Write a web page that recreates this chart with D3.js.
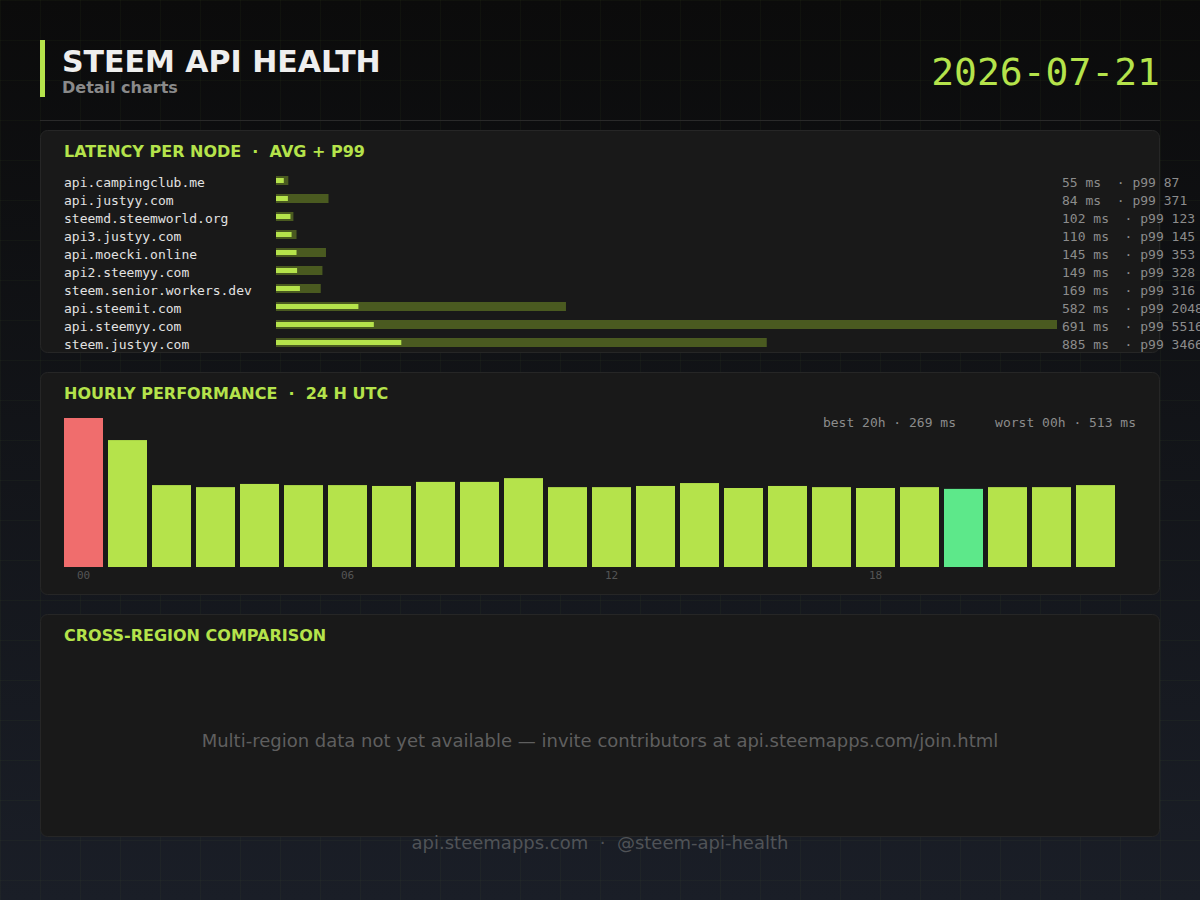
<!DOCTYPE html>
<html>
<head>
<meta charset="utf-8">
<script src="https://cdn.jsdelivr.net/npm/d3@7/dist/d3.min.js"></script>
<style>
  html, body { margin: 0; padding: 0; background: #0b0b0b; }
  svg { display: block; }
  text { white-space: pre; }
</style>
</head>
<body>
<svg id="chart" width="1200" height="900"></svg>
<script>
// ---------- data ----------
const title = "STEEM API HEALTH";
const subtitle = "Detail charts";
const dateLabel = "2026-07-21";

const nodeNames = ["api.campingclub.me", "api.justyy.com", "steemd.steemworld.org", "api3.justyy.com",
  "api.moecki.online", "api2.steemyy.com", "steem.senior.workers.dev", "api.steemit.com",
  "api.steemyy.com", "steem.justyy.com"];
const nodeAvg = [55, 84, 102, 110, 145, 149, 169, 582, 691, 885];
const nodeP99 = [87, 371, 123, 145, 353, 328, 316, 2048, 5516, 3466];

const hours = ["00","01","02","03","04","05","06","07","08","09","10","11",
               "12","13","14","15","16","17","18","19","20","21","22","23"];
const hourlyMs = [513, 437, 282, 275, 286, 282, 282, 279, 293, 293, 306, 275,
                  275, 279, 289, 272, 279, 275, 272, 275, 269, 275, 275, 282];
const hourTicks = ["00", "06", "12", "18"];

const regionMessage = "Multi-region data not yet available \u2014 invite contributors at api.steemapps.com/join.html";
const footerText = "api.steemapps.com  \u00b7  @steem-api-health";

// ---------- style ----------
const ACCENT = "#b5e34b";
const OLIVE = "#4a5a20";
const RED = "#f06d6d";
const GREEN = "#5de88a";
const SANS = "'DejaVu Sans', sans-serif";
const MONO = "'DejaVu Sans Mono', monospace";

const svg = d3.select("#chart");
const W = 1200, H = 900;

// background
const defs = svg.append("defs");
const bg = defs.append("linearGradient").attr("id", "bg").attr("x1", 0).attr("y1", 0).attr("x2", 0).attr("y2", 1);
bg.append("stop").attr("offset", "0%").attr("stop-color", "#0b0b0b");
bg.append("stop").attr("offset", "100%").attr("stop-color", "#1a1e27");
svg.append("rect").attr("width", W).attr("height", H).attr("fill", "url(#bg)");

const grid = svg.append("g").attr("stroke", "rgba(181,227,75,0.035)").attr("stroke-width", 1);
grid.selectAll("line.v").data(d3.range(0, W + 1, 40)).join("line")
  .attr("x1", d => d + 0.5).attr("x2", d => d + 0.5).attr("y1", 0).attr("y2", H);
grid.selectAll("line.h").data(d3.range(0, H + 1, 40)).join("line")
  .attr("y1", d => d + 0.5).attr("y2", d => d + 0.5).attr("x1", 0).attr("x2", W);

// header
svg.append("rect").attr("x", 40).attr("y", 40).attr("width", 5).attr("height", 57).attr("fill", ACCENT);
svg.append("text").attr("x", 62).attr("y", 72).attr("font-family", SANS).attr("font-weight", "bold")
  .attr("font-size", 30).attr("fill", "#eeeeee").text(title);
svg.append("text").attr("x", 62).attr("y", 93).attr("font-family", SANS).attr("font-weight", "bold")
  .attr("font-size", 16).attr("fill", "#8a8a8a").text(subtitle);
svg.append("text").attr("x", 1160).attr("y", 85).attr("text-anchor", "end").attr("font-family", MONO)
  .attr("font-size", 38).attr("fill", ACCENT).text(dateLabel);
svg.append("line").attr("x1", 40).attr("x2", 1160).attr("y1", 120.5).attr("y2", 120.5)
  .attr("stroke", "#2a2a2a").attr("stroke-width", 1);

// panels
function panel(y, h, label) {
  svg.append("rect").attr("x", 40.5).attr("y", y + 0.5).attr("width", 1119).attr("height", h)
    .attr("rx", 7).attr("fill", "#191919").attr("stroke", "#262626");
  svg.append("text").attr("x", 64).attr("y", y + 27).attr("font-family", SANS).attr("font-weight", "bold")
    .attr("font-size", 16).attr("fill", ACCENT).text(label);
}
panel(130, 222, "LATENCY PER NODE  \u00b7  AVG + P99");
panel(372, 222, "HOURLY PERFORMANCE  \u00b7  24 H UTC");
panel(614, 222, "CROSS-REGION COMPARISON");

// ---------- latency per node ----------
const nodes = nodeNames.map((n, i) => ({ name: n, avg: nodeAvg[i], p99: nodeP99[i] }));
const xLat = d3.scaleLinear().domain([0, d3.max(nodeP99)]).range([276, 1057]);
const yLat = d3.scalePoint().domain(nodeNames).range([180.5, 342.5]);

const lat = svg.append("g");
lat.selectAll("text.name").data(nodes).join("text")
  .attr("x", 64).attr("y", d => yLat(d.name) + 6.5)
  .attr("font-family", MONO).attr("font-size", 13).attr("fill", "#e2e2e2").text(d => d.name);
lat.selectAll("rect.p99").data(nodes).join("rect")
  .attr("x", xLat(0)).attr("y", d => yLat(d.name) - 4.5)
  .attr("width", d => xLat(d.p99) - xLat(0)).attr("height", 9).attr("fill", OLIVE);
lat.selectAll("rect.avg").data(nodes).join("rect")
  .attr("x", xLat(0)).attr("y", d => yLat(d.name) - 2.5)
  .attr("width", d => xLat(d.avg) - xLat(0)).attr("height", 5).attr("fill", ACCENT);
lat.selectAll("text.val").data(nodes).join("text")
  .attr("x", 1062).attr("y", d => yLat(d.name) + 6.5)
  .attr("font-family", MONO).attr("font-size", 13).attr("fill", "#8c8c8c")
  .text(d => `${d.avg} ms  \u00b7 p99 ${d.p99}`);

// ---------- hourly ----------
const hourly = hours.map((h, i) => ({ h, v: hourlyMs[i] }));
const maxV = d3.max(hourlyMs), minV = d3.min(hourlyMs);
const worst = hourly.find(d => d.v === maxV), best = hourly.find(d => d.v === minV);
const xH = d3.scaleBand().domain(hours).range([64, 1115]).paddingInner(5 / 44).paddingOuter(0);
const yH = d3.scaleLinear().domain([0, maxV]).range([567, 418]);

svg.append("g").selectAll("rect").data(hourly).join("rect")
  .attr("x", d => xH(d.h)).attr("y", d => yH(d.v))
  .attr("width", xH.bandwidth()).attr("height", d => yH(0) - yH(d.v))
  .attr("fill", d => d === worst ? RED : d === best ? GREEN : ACCENT);

const xAxis = d3.axisBottom(xH).tickValues(hourTicks).tickSize(0).tickPadding(0);
const ax = svg.append("g").attr("transform", "translate(0,571)").call(xAxis);
ax.select(".domain").remove();
ax.selectAll("text").attr("font-family", MONO).attr("font-size", 11).attr("fill", "#555555").attr("dy", "0.71em");

svg.append("text").attr("x", 1136).attr("y", 427).attr("text-anchor", "end")
  .attr("font-family", MONO).attr("font-size", 13).attr("fill", "#8c8c8c")
  .text(`best ${best.h}h \u00b7 ${best.v} ms     worst ${worst.h}h \u00b7 ${worst.v} ms`);

// ---------- cross region ----------
svg.append("text").attr("x", 600).attr("y", 747).attr("text-anchor", "middle")
  .attr("font-family", SANS).attr("font-size", 18).attr("fill", "#5f5f5f").text(regionMessage);

// footer
svg.append("text").attr("x", 600).attr("y", 849).attr("text-anchor", "middle")
  .attr("font-family", SANS).attr("font-size", 18).attr("fill", "#505357").text(footerText);
</script>
</body>
</html>
